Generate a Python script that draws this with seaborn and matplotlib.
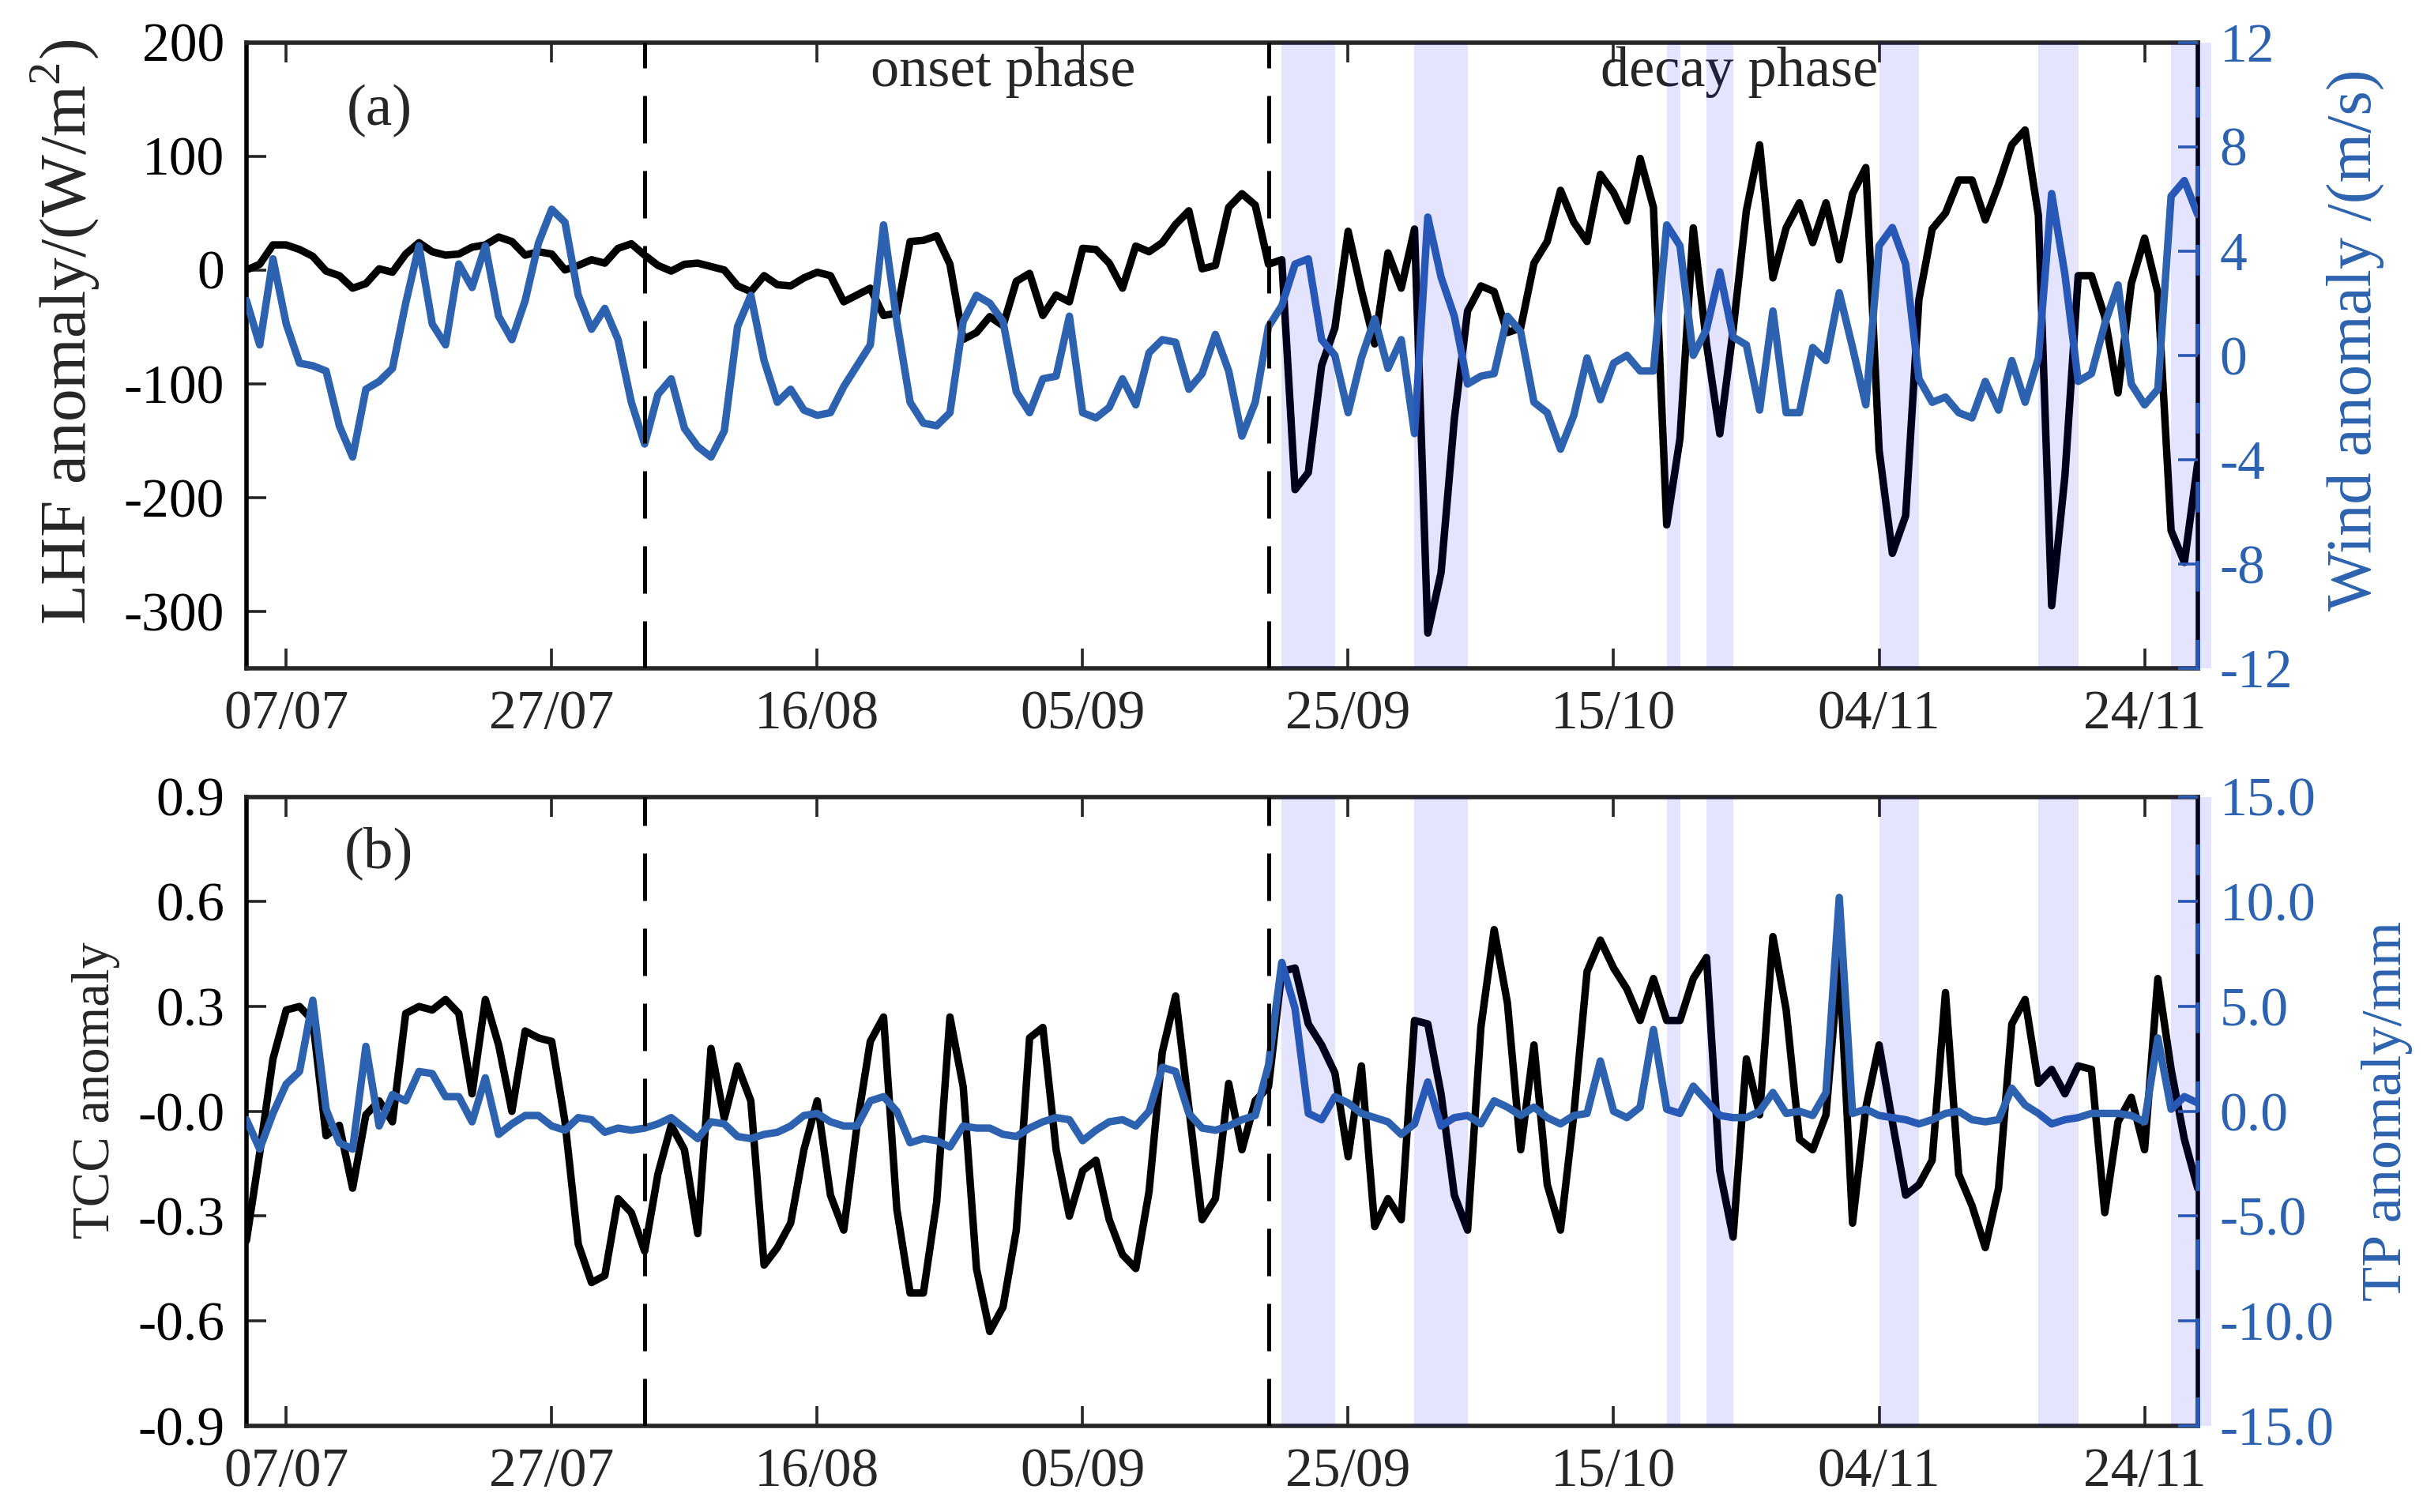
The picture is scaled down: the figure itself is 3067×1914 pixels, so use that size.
import numpy as np
import pandas as pd
import matplotlib
matplotlib.use('Agg')
import matplotlib.pyplot as plt
import matplotlib.dates as mdates
import seaborn as sns

# daily series, 04/07 .. 28/11
start_date = '2019-07-04'
end_date = '2019-11-28'

lhf = [0, 5, 22, 22, 18, 12, -1, -5, -16, -12, 1, -2, 14, 24, 16, 13, 14, 20, 22, 29,
       25, 13, 16, 14, 0, 4, 9, 6, 19, 23, 13, 4, -1, 5, 6, 3, 0, -14, -19, -5,
       -13, -14, -7, -2, -5, -28, -22, -16, -40, -38, 25, 26, 30, 5, -61, -55, -41, -49, -10, -3,
       -40, -22, -28, 19, 18, 6, -16, 21, 16, 24, 40, 52, 1, 4, 55, 67, 57, 5, 9, -193,
       -178, -84, -51, 34, -18, -65, 15, -16, 36, -319, -266, -131, -36, -14, -19, -55, -51, 6, 25, 70,
       42, 25, 84, 68, 43, 98, 55, -224, -148, 37, -65, -144, -53, 52, 110, -7, 37, 59, 24, 59,
       9, 67, 90, -158, -249, -216, -26, 36, 50, 79, 79, 44, 75, 110, 123, 48, -295, -181, -5, -5,
       -41, -108, -12, 28, -20, -229, -257, -170]

wind = [2.1, 0.4, 3.7, 1.2, -0.3, -0.4, -0.6, -2.7, -3.9, -1.3, -1.0, -0.5, 2.0, 4.2, 1.2, 0.4, 3.5, 2.6, 4.2, 1.5,
        0.6, 2.1, 4.3, 5.6, 5.1, 2.3, 1.0, 1.8, 0.6, -1.8, -3.4, -1.5, -0.9, -2.8, -3.5, -3.9, -2.9, 1.1, 2.3, -0.2,
        -1.8, -1.3, -2.1, -2.3, -2.2, -1.2, -0.4, 0.4, 5.0, 1.3, -1.8, -2.6, -2.7, -2.2, 1.3, 2.3, 2.0, 1.3, -1.4, -2.2,
        -0.9, -0.8, 1.5, -2.2, -2.4, -2.0, -0.9, -1.9, 0.1, 0.6, 0.5, -1.3, -0.7, 0.8, -0.6, -3.1, -1.8, 1.1, 1.9, 3.5,
        3.7, 0.6, 0.0, -2.2, -0.1, 1.4, -0.5, 0.6, -3.0, 5.3, 3.0, 1.5, -1.1, -0.8, -0.7, 1.5, 0.9, -1.8, -2.2, -3.6,
        -2.3, -0.1, -1.7, -0.3, 0.0, -0.6, -0.6, 5.0, 4.2, 0.0, 1.0, 3.2, 0.7, 0.4, -2.1, 1.7, -2.2, -2.2, 0.3, -0.2,
        2.4, 0.3, -1.9, 4.2, 4.9, 3.5, -0.9, -1.8, -1.6, -2.2, -2.4, -1.0, -2.1, -0.2, -1.8, -0.1, 6.2, 3.1, -1.0, -0.7,
        1.2, 2.7, -1.1, -1.9, -1.3, 6.1, 6.7, 5.4]

tcc = [-0.37, -0.12, 0.15, 0.29, 0.30, 0.26, -0.07, -0.04, -0.22, -0.01, 0.03, -0.03, 0.28, 0.30, 0.29, 0.32, 0.28, 0.05, 0.32, 0.19,
       0.00, 0.23, 0.21, 0.20, -0.03, -0.38, -0.49, -0.47, -0.25, -0.29, -0.40, -0.18, -0.04, -0.11, -0.35, 0.18, -0.02, 0.13, 0.03, -0.44,
       -0.39, -0.32, -0.11, 0.03, -0.24, -0.34, -0.04, 0.20, 0.27, -0.28, -0.52, -0.52, -0.26, 0.27, 0.07, -0.45, -0.63, -0.56, -0.34, 0.21,
       0.24, -0.11, -0.30, -0.17, -0.14, -0.31, -0.41, -0.45, -0.23, 0.17, 0.33, 0.01, -0.31, -0.25, 0.08, -0.11, 0.03, 0.07, 0.40, 0.41,
       0.25, 0.19, 0.11, -0.13, 0.13, -0.33, -0.25, -0.31, 0.26, 0.25, 0.05, -0.24, -0.34, 0.24, 0.52, 0.31, -0.11, 0.19, -0.21, -0.34,
       -0.01, 0.40, 0.49, 0.41, 0.35, 0.26, 0.38, 0.26, 0.26, 0.38, 0.44, -0.17, -0.36, 0.15, -0.01, 0.50, 0.29, -0.08, -0.11, -0.01,
       0.44, -0.32, 0.01, 0.19, -0.03, -0.24, -0.21, -0.14, 0.34, -0.18, -0.27, -0.39, -0.22, 0.25, 0.32, 0.08, 0.12, 0.05, 0.13, 0.12,
       -0.29, -0.03, 0.04, -0.11, 0.38, 0.12, -0.08, -0.22]

tp = [-0.4, -1.8, -0.1, 1.3, 1.9, 5.3, 0.1, -1.5, -1.8, 3.1, -0.7, 0.8, 0.5, 1.9, 1.8, 0.7, 0.7, -0.5, 1.6, -1.1,
      -0.6, -0.2, -0.2, -0.7, -0.9, -0.3, -0.4, -1.0, -0.8, -0.9, -0.8, -0.6, -0.3, -0.8, -1.3, -0.5, -0.6, -1.2, -1.3, -1.1,
      -1.0, -0.7, -0.2, -0.1, -0.5, -0.7, -0.7, 0.5, 0.7, 0.0, -1.5, -1.3, -1.4, -1.7, -0.7, -0.8, -0.8, -1.1, -1.2, -0.8,
      -0.5, -0.3, -0.4, -1.4, -0.9, -0.5, -0.4, -0.7, 0.0, 2.1, 1.9, -0.1, -0.8, -0.9, -0.7, -0.4, -0.2, 2.2, 7.1, 4.9,
      -0.1, -0.4, 0.7, 0.4, -0.1, -0.3, -0.5, -1.1, -0.6, 1.4, -0.7, -0.3, -0.2, -0.6, 0.5, 0.2, -0.2, 0.2, -0.3, -0.6,
      -0.2, -0.1, 2.4, 0.0, -0.3, 0.2, 3.9, 0.1, -0.1, 1.2, 0.5, -0.2, -0.3, -0.3, 0.0, 0.9, -0.1, 0.0, -0.2, 0.9,
      10.2, -0.1, 0.1, -0.2, -0.3, -0.4, -0.6, -0.4, -0.1, 0.0, -0.4, -0.5, -0.4, 1.1, 0.3, -0.1, -0.6, -0.4, -0.3, -0.1,
      -0.1, -0.1, -0.2, -0.5, 3.5, 0.1, 0.7, 0.4]

# shaded decay events and phase boundaries
spans = [('2019-09-20', '2019-09-24'), ('2019-09-30', '2019-10-04'), ('2019-10-19', '2019-10-20'),
         ('2019-10-22', '2019-10-24'), ('2019-11-04', '2019-11-07'), ('2019-11-16', '2019-11-19'),
         ('2019-11-26', '2019-11-29')]
phase_lines = ['2019-08-03', '2019-09-19']
xtick_dates = pd.date_range('2019-07-07', periods=8, freq='20D')

lhf_ticks = [200, 100, 0, -100, -200, -300]
wind_ticks = [12, 8, 4, 0, -4, -8, -12]
tcc_ticks = [0.9, 0.6, 0.3, 0.0, -0.3, -0.6, -0.9]
tcc_labels = ['0.9', '0.6', '0.3', '-0.0', '-0.3', '-0.6', '-0.9']
tp_ticks = [15, 10, 5, 0, -5, -10, -15]

dates = pd.date_range(start_date, end_date, freq='D')
df = pd.DataFrame({'date': dates, 'lhf': lhf, 'wind': wind, 'tcc': tcc, 'tp': tp})

BLUE = '#2C62AF'
FRAME = '#262626'

sns.set_style('ticks')
plt.rcParams['font.family'] = ['Liberation Serif', 'DejaVu Serif']
plt.rcParams['mathtext.fontset'] = 'custom'
plt.rcParams['mathtext.rm'] = 'Liberation Serif'
plt.rcParams['axes.unicode_minus'] = False

fig = plt.figure(figsize=(15.335, 9.57), dpi=200)
ax_a = fig.add_axes([0.1017, 0.558, 0.8053, 0.414])
ax_b = fig.add_axes([0.1017, 0.057, 0.8053, 0.416])


def make_panel(ax, lcol, rcol, lylim, rylim, lticks, rticks, llabels, rfmt, llab, rlab, llab_size, rlab_size,
               lpos, rpos):
    sns.lineplot(data=df, x='date', y=lcol, color='black', lw=3.4, ax=ax)
    ax2 = ax.twinx()
    sns.lineplot(data=df, x='date', y=rcol, color=BLUE, lw=3.4, ax=ax2)
    ax.set_xlim(dates[0], dates[-1])
    ax.set_ylim(*lylim)
    ax2.set_ylim(*rylim)
    ax.set_yticks(lticks)
    ax.set_yticklabels(llabels)
    ax2.set_yticks(rticks)
    ax2.set_yticklabels([rfmt.format(v) for v in rticks])
    ax.set_xticks(xtick_dates)
    ax.xaxis.set_major_formatter(mdates.DateFormatter('%d/%m'))
    ax.set_xlabel('')
    ax.set_ylabel(llab, fontsize=llab_size)
    ax2.set_ylabel(rlab, fontsize=rlab_size, color=BLUE)
    ax.yaxis.set_label_coords(*lpos)
    ax2.yaxis.set_label_coords(*rpos)
    ax.yaxis.label.set_va('center')
    ax2.yaxis.label.set_va('center')
    ax.tick_params(axis='both', direction='in', length=9, width=1.3, labelsize=25, pad=10,
                   top=True, right=False, colors=FRAME, labelcolor='black')
    ax.tick_params(axis='x', labelcolor=FRAME)
    ax2.tick_params(axis='y', direction='in', length=9, width=1.3, labelsize=25, pad=10,
                    colors=BLUE)
    for s in ax.spines.values():
        s.set_linewidth(2.0)
        s.set_color(FRAME)
        s.set_visible(True)
    ax.spines['left'].set_color('black')
    ax.spines['right'].set_color('black')
    for s in ['left', 'top', 'bottom']:
        ax2.spines[s].set_visible(False)
    ax2.spines['right'].set_color(BLUE)
    ax2.spines['right'].set_linewidth(2.0)
    ax2.spines['right'].set_linestyle((0, (6, 12)))
    for d in phase_lines:
        ax2.axvline(pd.Timestamp(d), color='black', lw=1.8, ls=(0, (12, 7)), zorder=4)
    for a, b in spans:
        ax2.axvspan(pd.Timestamp(a), pd.Timestamp(b), color=(0, 0, 1), alpha=0.106, lw=0,
                    zorder=5, clip_on=False)
    return ax2


make_panel(ax_a, 'lhf', 'wind', (-350, 200), (-12, 12), lhf_ticks, wind_ticks,
           [str(v) for v in lhf_ticks], '{:d}', 'LHF anomaly/(W/m$^2$)', 'Wind anomaly /(m/s)', 30, 29,
           (-0.093, 0.537), (1.081, 0.525))
make_panel(ax_b, 'tcc', 'tp', (-0.9, 0.9), (-15, 15), tcc_ticks, tp_ticks,
           tcc_labels, '{:.1f}', 'TCC anomaly', 'TP anomaly/mm', 24, 26,
           (-0.077, 0.533), (1.097, 0.5))

ax_a.text(pd.Timestamp('2019-07-14'), 140, '(a)', fontsize=27, ha='center', va='center')
ax_b.text(pd.Timestamp('2019-07-14'), 0.738, '(b)', fontsize=27, ha='center', va='center')
ax_a.text(pd.Timestamp('2019-08-30'), 174, 'onset phase', fontsize=26, ha='center', va='center')
ax_a.text(pd.Timestamp('2019-10-24 12:00'), 174, 'decay phase', fontsize=26, ha='center', va='center')

fig.savefig('out.png', dpi=200)
